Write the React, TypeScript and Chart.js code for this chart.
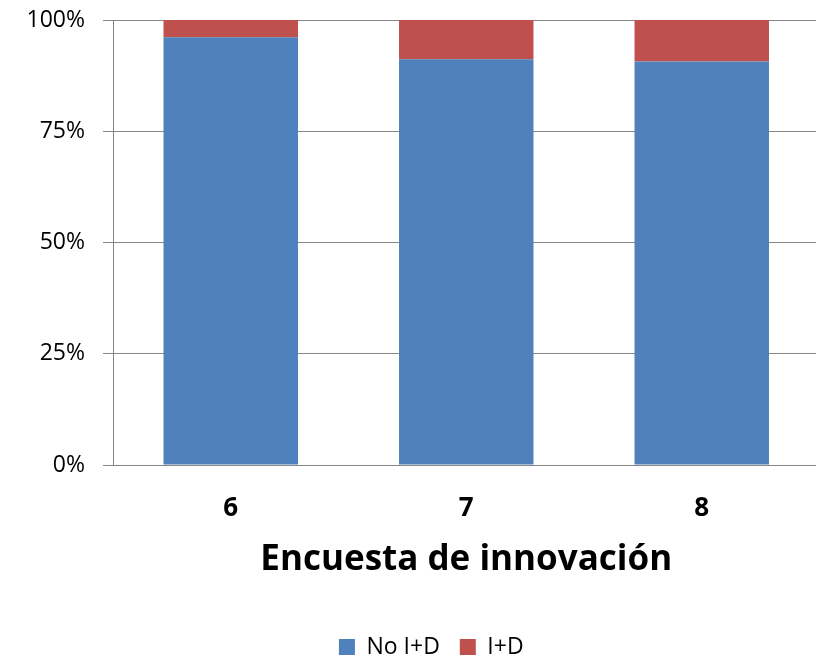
import React, { useEffect, useRef } from "react";
import { Chart, registerables } from "chart.js";

Chart.register(...registerables);

const categories = ["6", "7", "8"];
const noIDValues = [0.961, 0.912, 0.907];
const iDValues = [0.039, 0.088, 0.093];
const yTickValues = [0, 0.25, 0.5, 0.75, 1];
const axisTitle = "Encuesta de innovación";
const seriesNames = ["No I+D", "I+D"];

const legendShift = {
  id: "legendShift",
  afterLayout(chart: any) {
    const lg = chart.legend;
    if (lg) {
      lg.left = 43;
      lg.right = 819.5;
    }
  },
};

export default function App() {
  const ref = useRef<HTMLCanvasElement | null>(null);

  useEffect(() => {
    if (!ref.current) return;
    Chart.defaults.font.family = "'Open Sans', sans-serif";
    const gray = "#868686";
    const chart = new Chart(ref.current, {
      type: "bar",
      data: {
        labels: categories,
        datasets: [
          {
            label: seriesNames[0],
            data: noIDValues,
            backgroundColor: "#4F81BD",
            borderWidth: 0,
            barPercentage: 0.571,
            categoryPercentage: 1,
          },
          {
            label: seriesNames[1],
            data: iDValues,
            backgroundColor: "#C0504D",
            borderWidth: 0,
            barPercentage: 0.571,
            categoryPercentage: 1,
          },
        ],
      },
      plugins: [legendShift],
      options: {
        responsive: false,
        animation: false,
        events: [],
        layout: { padding: { left: 0, right: 4.5, top: 20, bottom: 11.5 } },
        plugins: {
          tooltip: { enabled: false },
          legend: {
            position: "bottom",
            labels: {
              boxWidth: 16,
              boxHeight: 16,
              padding: 20,
              color: "#000",
              font: { size: 23 },
            },
          },
        },
        scales: {
          x: {
            stacked: true,
            grid: { display: false, drawTicks: false, tickLength: 0 },
            border: { display: true, color: gray, width: 1 },
            ticks: {
              color: "#000",
              padding: 28,
              font: { size: 26, weight: "bold" },
            },
            title: {
              display: true,
              text: axisTitle,
              color: "#000",
              font: { size: 35, weight: "bold" },
              padding: { top: 0, bottom: 34 },
            },
            afterFit: (scale: any) => {
              scale.height = 150.5;
            },
          },
          y: {
            stacked: true,
            min: 0,
            max: 1,
            afterBuildTicks: (scale: any) => {
              scale.ticks = yTickValues.map((v) => ({ value: v }));
            },
            grid: {
              color: gray,
              lineWidth: 1,
              drawTicks: true,
              tickLength: 10,
            },
            border: { display: true, color: gray, width: 1 },
            ticks: {
              color: "#000",
              padding: 18,
              font: { size: 23 },
              callback: (v: any) => Math.round(Number(v) * 100) + "%",
            },
            afterFit: (scale: any) => {
              scale.width = 113;
              scale.paddingTop = 0;
              scale.paddingBottom = 0;
            },
          },
        },
      },
    });
    return () => chart.destroy();
  }, []);

  return (
    <canvas
      ref={ref}
      width={824}
      height={680}
      style={{ position: "fixed", left: 0, top: 0, width: 824, height: 680 }}
    />
  );
}
